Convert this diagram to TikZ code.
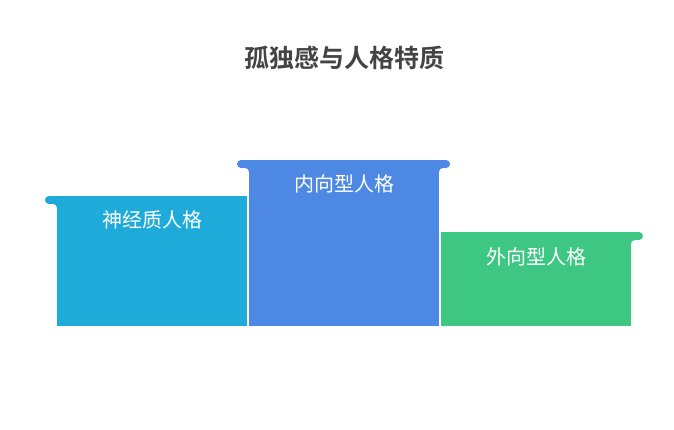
\documentclass[tikz,border=0pt]{standalone}
\usepackage{fontspec}
\newfontfamily\cjk{Noto Sans CJK SC}
\newfontfamily\cjkbold{Noto Sans CJK SC Bold}
\definecolor{barcyan}{HTML}{1EABDA}
\definecolor{barblue}{HTML}{4E88E5}
\definecolor{bargreen}{HTML}{3EC683}
\definecolor{titlegray}{HTML}{444444}
\begin{document}
\begin{tikzpicture}[x=1pt,y=-1pt,
  barlabel/.style={text=white,font=\cjk\fontsize{20}{22}\selectfont,inner sep=0pt,anchor=center},
  captitle/.style={text=titlegray,font=\cjkbold\fontsize{25}{28}\selectfont,inner sep=0pt,anchor=center}]
\useasboundingbox (0,0) rectangle (674,430);
\fill[white] (0,0) rectangle (674,430);
% bar 1
\fill[barcyan] (57,196) rectangle (247,326);
\fill[barcyan] (49,196) rectangle (247,204);
\fill[barcyan] (49,200) circle[radius=4];
\fill[barcyan] (53,204) -- (57,204) -- (57,208) .. controls (57,205.5) and (55.5,204) .. (53,204) -- cycle;
% bar 2
\fill[barblue] (249,160) rectangle (439,326);
\fill[barblue] (241,160) rectangle (446,168);
\fill[barblue] (241,164) circle[radius=4];
\fill[barblue] (446,164) circle[radius=4];
\fill[barblue] (245,168) -- (249,168) -- (249,172) .. controls (249,169.5) and (247.5,168) .. (245,168) -- cycle;
\fill[barblue] (443,168) -- (439,168) -- (439,172) .. controls (439,169.5) and (440.5,168) .. (443,168) -- cycle;
% bar 3
\fill[bargreen] (441,232) rectangle (631,326);
\fill[bargreen] (441,232) rectangle (639,240);
\fill[bargreen] (639,236) circle[radius=4];
\fill[bargreen] (635,240) -- (631,240) -- (631,244) .. controls (631,241.5) and (632.5,240) .. (635,240) -- cycle;
% labels
\node[captitle] (title) at (344,58) {孤独感与人格特质};
\node[barlabel] (l1) at (152,220) {神经质人格};
\node[barlabel] (l2) at (344,184) {内向型人格};
\node[barlabel] (l3) at (536,257) {外向型人格};
\end{tikzpicture}
\end{document}
